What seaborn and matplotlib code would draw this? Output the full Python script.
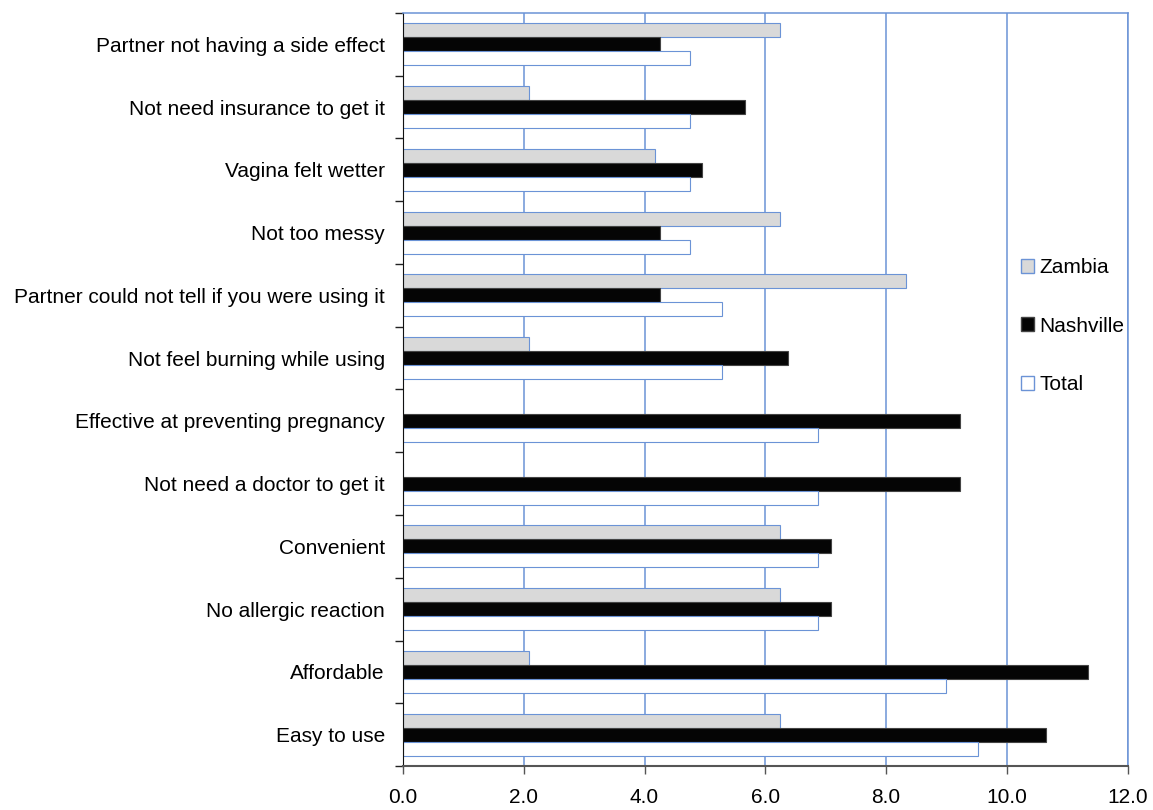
import pandas as pd
import matplotlib
matplotlib.use('Agg')
import matplotlib.pyplot as plt
from matplotlib.patches import Patch
from matplotlib.ticker import FormatStrFormatter, FixedLocator
import seaborn as sns

items = ['Partner not having a side effect', 'Not need insurance to get it',
         'Vagina felt wetter', 'Not too messy',
         'Partner could not tell if you were using it', 'Not feel burning while using',
         'Effective at preventing pregnancy', 'Not need a doctor to get it',
         'Convenient', 'No allergic reaction', 'Affordable', 'Easy to use']
zambia = [6.25, 2.08, 4.17, 6.25, 8.33, 2.08, 0.0, 0.0, 6.25, 6.25, 2.08, 6.25]
nashville = [4.26, 5.67, 4.96, 4.26, 4.26, 6.38, 9.22, 9.22, 7.09, 7.09, 11.35, 10.64]
total = [4.76, 4.76, 4.76, 4.76, 5.29, 5.29, 6.88, 6.88, 6.88, 6.88, 8.99, 9.52]
sites = ['Zambia', 'Nashville', 'Total']

df = pd.DataFrame({'item': items * 3,
                   'value': zambia + nashville + total,
                   'site': [s for s in sites for _ in items]})

blue = '#6b93d6'
fills = {'Zambia': '#d9d9d9', 'Nashville': '#050505', 'Total': '#ffffff'}
edges = {'Zambia': blue, 'Nashville': '#444444', 'Total': blue}

sns.set_style('white')
plt.rcParams['font.family'] = ['Liberation Sans', 'DejaVu Sans']
plt.rcParams['text.color'] = 'black'
plt.rcParams['xtick.labelcolor'] = 'black'
plt.rcParams['ytick.labelcolor'] = 'black'

fig = plt.figure(figsize=(11.53, 8.10), dpi=100)
ax = fig.add_axes([0.3495, 0.0543, 0.6285, 0.9297])
sns.barplot(data=df, y='item', x='value', hue='site', order=items, hue_order=sites,
            orient='h', width=0.67, palette=fills, saturation=1, ax=ax, legend=False)
for cont, s in zip(ax.containers, sites):
    for p in cont:
        p.set_edgecolor(edges[s])
        p.set_linewidth(0.8)

ax.set_xlim(0, 12)
ax.set_ylim(len(items) - 0.5, -0.5)
ax.set_xlabel('')
ax.set_ylabel('')
ax.set_xticks(range(0, 13, 2))
ax.xaxis.set_major_formatter(FormatStrFormatter('%.1f'))
ax.tick_params(axis='x', labelsize=15, length=6, width=1, color='#555555', pad=10,
               bottom=True)

# category labels centred, ticks on boundaries
ax.yaxis.set_major_locator(FixedLocator([i - 0.5 for i in range(len(items) + 1)]))
ax.yaxis.set_minor_locator(FixedLocator(range(len(items))))
ax.set_yticklabels([], minor=False)
ax.set_yticklabels(items, minor=True)
ax.tick_params(axis='y', which='major', length=6, width=1, color='#222222', left=True)
ax.tick_params(axis='y', which='minor', length=0, labelsize=15, pad=13)

ax.grid(axis='x', color=blue, linewidth=1.1)
ax.grid(axis='y', visible=False)
ax.set_axisbelow(True)
ax.spines['left'].set_color('#111111')
ax.spines['bottom'].set_color('#555555')
ax.spines['bottom'].set_linewidth(1.5)
for side in ['top', 'right']:
    ax.spines[side].set_color(blue)
    ax.spines[side].set_linewidth(1.1)

handles = [Patch(facecolor=fills[s], edgecolor=edges[s], linewidth=1.0) for s in sites]
ax.legend(handles, sites, loc='center left', bbox_to_anchor=(0.841, 0.584),
          frameon=False, fontsize=15, handlelength=0.65, handleheight=0.65,
          handletextpad=0.25, labelspacing=1.9, borderaxespad=0)

fig.savefig('out.png', dpi=100)
